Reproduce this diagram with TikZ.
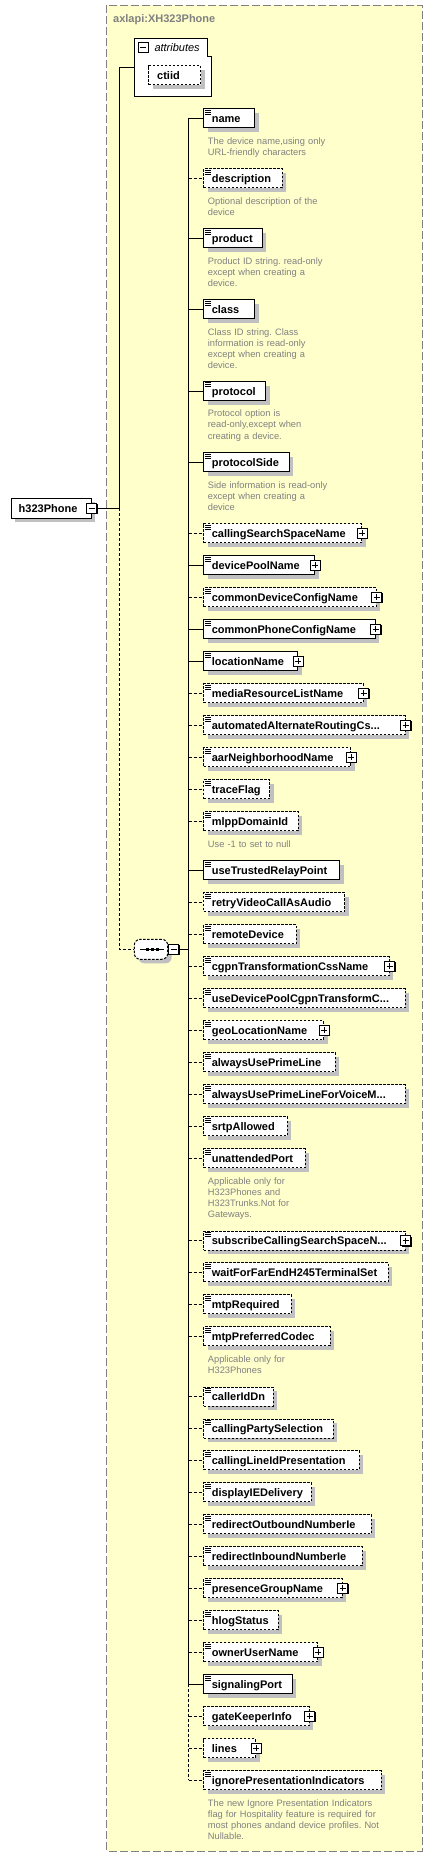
\documentclass[tikz,border=0pt]{standalone}
\usepackage{fontspec}
\setmainfont{Liberation Sans}
\usetikzlibrary{shadows}
\definecolor{frameyellow}{HTML}{FFFFCC}
\definecolor{framegray}{HTML}{808080}
\definecolor{shadowgray}{HTML}{C0C0C0}
\definecolor{descgray}{HTML}{808080}
\tikzset{
  boxshadow/.style={general shadow={fill=shadowgray, shadow xshift=4pt, shadow yshift=-4pt}},
  labelfont/.style={font=\fontsize{11}{13}\selectfont\bfseries},
  elembox/.style={draw=black, fill=white, line width=1pt, inner sep=0pt,
    minimum height=19pt, anchor=north west, text height=8pt, text depth=0pt,
    labelfont, boxshadow},
  reqbox/.style={solid},
  optbox/.style={dash pattern=on 2.5pt off 1.5pt},
  reqconn/.style={draw=black, line width=1pt, solid},
  optconn/.style={draw=black, line width=1pt, dash pattern=on 3pt off 2pt},
  icon/.style={path picture={
    \draw[black, line width=0.7pt, solid]
      ([shift={(1.2pt,-1.3pt)}]path picture bounding box.north west) -- ++(6pt,0)
      ([shift={(1.2pt,-3.3pt)}]path picture bounding box.north west) -- ++(6pt,0)
      ([shift={(1.2pt,-5.3pt)}]path picture bounding box.north west) -- ++(6pt,0);}},
  noicon/.style={},
  pmbox/.style={draw=black, fill=white, line width=1pt, solid, minimum size=10pt,
    inner sep=0pt, general shadow={fill=black, shadow xshift=1pt, shadow yshift=-1pt}},
  plusbox/.style={pmbox, path picture={
    \draw[black, line width=1pt]
      ([xshift=2pt]path picture bounding box.west) -- ([xshift=-2pt]path picture bounding box.east)
      ([yshift=-2pt]path picture bounding box.north) -- ([yshift=2pt]path picture bounding box.south);}},
  minusbox/.style={pmbox, path picture={
    \draw[black, line width=1pt]
      ([xshift=2pt]path picture bounding box.west) -- ([xshift=-2pt]path picture bounding box.east);}},
  desc/.style={anchor=base west, align=left, text width=200pt, inner sep=0pt, text=descgray,
    font=\fontsize{9.3}{11.2}\selectfont\frenchspacing},
  seqbox/.style={draw=black, fill=white, line width=1pt, dash pattern=on 2.5pt off 1.5pt,
    rounded corners=6pt, minimum width=33.4pt, minimum height=20pt, inner sep=0pt, boxshadow},
}
\newcommand{\xelem}[6]{%
  \pgfmathsetmacro{\ew}{#3-203.3}%
  \node[elembox, #4box, #5] (#1) at (203.3,#2) {\makebox[\ew pt][l]{\hspace{8pt}#6}};
  \draw[#4conn] (#1.west -| spine) -- (#1.west);
}
\newcommand{\xplus}[1]{\node[plusbox] (#1-plus) at (#1.east) {};}
\newcommand{\xdesc}[2]{\node[desc] (#1-desc) at ([xshift=4.4pt,yshift=-15.7pt]#1.south west) {#2};}
\begin{document}
\begin{tikzpicture}[x=1pt,y=-1pt]
\useasboundingbox (0,0) rectangle (433,1857);
% outer frame
\draw[draw=framegray, fill=frameyellow, line width=1pt, dash pattern=on 8pt off 3pt]
  (106.7,5.3) rectangle (422.3,1851);
\node[anchor=base west, inner sep=0pt, labelfont, text=framegray] (title) at (113,23) {axlapi:XH323Phone};
\coordinate (spine) at (188.7,0);
\coordinate (lspine) at (119.3,0);
% attributes
\node[inner sep=0pt, minimum width=77pt, minimum height=57.4pt, anchor=north west] (attr) at (134.3,38.3) {};
\draw[black, fill=white, line width=1pt] (attr.north west) -- ++(73pt,0) -- ++(0,-18.4pt) -- ++(4pt,0) |- (attr.south west) -- cycle;
\node[minusbox] (attr-minus) at (143.2,47.5) {};
\node[anchor=base west, inner sep=0pt, font=\fontsize{11}{13}\selectfont\itshape] (attr-label) at (154.3,52) {attributes};
\node[elembox, optbox] (ctiid) at (148.3,65.3) {\makebox[51.7pt][l]{\hspace{8.4pt}ctiid}};
% root
\node[draw=black, fill=white, line width=1pt, inner sep=0pt, minimum height=20pt,
  text height=8pt, text depth=0pt, labelfont, boxshadow, anchor=north west] (h323) at (10.7,497.7)
  {\makebox[80pt][l]{\hspace{7.5pt}h323Phone}};
\node[minusbox] (h323-minus) at (h323.east) {};
% sequence
\node[seqbox] (seq) at (151,949.3) {};
\draw[black, line width=1pt, solid] ([xshift=-11pt]seq.center) -- ([xshift=13pt]seq.center);
\foreach \dx in {-4,1,6}
  \fill[black] ([xshift=\dx pt]seq.center) ++(-1.5pt,-1.2pt) rectangle ++(3pt,2.4pt);
\node[minusbox] (seq-minus) at ([xshift=5.5pt]seq.east) {};
% children
\xelem{name}{108.3}{254.3}{req}{icon}{name}
\xdesc{name}{The device name,using only\\URL-friendly characters}
\xelem{description}{168.3}{281.7}{opt}{icon}{description}
\xdesc{description}{Optional description of the\\device}
\xelem{product}{228.3}{261.7}{req}{icon}{product}
\xdesc{product}{Product ID string. read-only\\except when creating a\\device.}
\xelem{class}{299.3}{254.3}{req}{icon}{class}
\xdesc{class}{Class ID string. Class\\information is read-only\\except when creating a\\device.}
\xelem{protocol}{381}{265}{req}{icon}{protocol}
\xdesc{protocol}{Protocol option is\\read-only,except when\\creating a device.}
\xelem{protocolSide}{452.3}{288.7}{req}{icon}{protocolSide}
\xdesc{protocolSide}{Side information is read-only\\except when creating a\\device}
\xelem{cssn}{523.3}{361}{opt}{icon}{callingSearchSpaceName}\xplus{cssn}
\xelem{dpn}{555.3}{314.3}{req}{icon}{devicePoolName}\xplus{dpn}
\xelem{cdcn}{587.3}{375.7}{opt}{icon}{commonDeviceConfigName}\xplus{cdcn}
\xelem{cpcn}{619.3}{374.7}{req}{icon}{commonPhoneConfigName}\xplus{cpcn}
\xelem{locn}{651.3}{297.3}{req}{icon}{locationName}\xplus{locn}
\xelem{mrln}{683.3}{362.7}{opt}{icon}{mediaResourceListName}\xplus{mrln}
\xelem{aarcs}{715.3}{404.7}{opt}{icon}{automatedAlternateRoutingCs...}\xplus{aarcs}
\xelem{aarnn}{747.3}{350}{opt}{icon}{aarNeighborhoodName}\xplus{aarnn}
\xelem{trace}{779.3}{269.3}{opt}{icon}{traceFlag}
\xelem{mlpp}{811.3}{297.7}{opt}{icon}{mlppDomainId}
\xdesc{mlpp}{Use -1 to set to null}
\xelem{utrp}{860.3}{339.3}{req}{icon}{useTrustedRelayPoint}
\xelem{rvca}{892.3}{344.3}{opt}{icon}{retryVideoCallAsAudio}
\xelem{remd}{924.3}{295.7}{opt}{icon}{remoteDevice}
\xelem{cgpn}{956.3}{388.7}{opt}{icon}{cgpnTransformationCssName}\xplus{cgpn}
\xelem{udpc}{988.3}{404.7}{opt}{icon}{useDevicePoolCgpnTransformC...}
\xelem{geol}{1020.3}{323}{opt}{icon}{geoLocationName}\xplus{geol}
\xelem{aupl}{1052.3}{334.7}{opt}{icon}{alwaysUsePrimeLine}
\xelem{auplv}{1084.3}{404.7}{opt}{icon}{alwaysUsePrimeLineForVoiceM...}
\xelem{srtp}{1116.3}{286.7}{opt}{icon}{srtpAllowed}
\xelem{unatt}{1148.3}{304.7}{opt}{icon}{unattendedPort}
\xdesc{unatt}{Applicable only for\\H323Phones and\\H323Trunks.Not for\\Gateways.}
\xelem{scss}{1230.5}{404.7}{opt}{icon}{subscribeCallingSearchSpaceN...}\xplus{scss}
\xelem{wfeh}{1262.3}{387.7}{opt}{icon}{waitForFarEndH245TerminalSet}
\xelem{mtpr}{1294.3}{290.7}{opt}{icon}{mtpRequired}
\xelem{mtpc}{1326.3}{329.7}{opt}{icon}{mtpPreferredCodec}
\xdesc{mtpc}{Applicable only for\\H323Phones}
\xelem{cidn}{1386.5}{272.7}{opt}{icon}{callerIdDn}
\xelem{cps}{1418.5}{332.7}{opt}{icon}{callingPartySelection}
\xelem{clip}{1450.3}{358.7}{opt}{icon}{callingLineIdPresentation}
\xelem{died}{1482.3}{310.7}{opt}{icon}{displayIEDelivery}
\xelem{roni}{1514.3}{370.7}{opt}{icon}{redirectOutboundNumberIe}
\xelem{rini}{1546.3}{361.7}{opt}{icon}{redirectInboundNumberIe}
\xelem{pgn}{1578.3}{341.7}{opt}{icon}{presenceGroupName}\xplus{pgn}
\xelem{hlog}{1610.3}{277.7}{opt}{icon}{hlogStatus}
\xelem{oun}{1642.3}{317}{opt}{icon}{ownerUserName}\xplus{oun}
\xelem{sigp}{1674.3}{291.7}{req}{icon}{signalingPort}
\xelem{gki}{1706.3}{308.7}{opt}{noicon}{gateKeeperInfo}\xplus{gki}
\xelem{lines}{1738.3}{255}{opt}{noicon}{lines}\xplus{lines}
\xelem{ipi}{1770.3}{380.7}{opt}{icon}{ignorePresentationIndicators}
\xdesc{ipi}{The new Ignore Presentation Indicators\\flag for Hospitality feature is required for\\most phones andand device profiles. Not\\Nullable.}
% spines and connectors
\draw[reqconn] (name.west -| spine) -- (sigp.west -| spine);
\draw[optconn] (sigp.west -| spine) -- (ipi.west -| spine);
\draw[reqconn] (seq-minus.east) -- (seq-minus.east -| spine);
\draw[reqconn] (attr.west) -- (attr.west -| lspine) -- (h323-minus.east -| lspine);
\draw[reqconn] (h323-minus.east) -- (h323-minus.east -| lspine);
\draw[optconn] (h323-minus.east -| lspine) -- (seq.west -| lspine) -- (seq.west);
\end{tikzpicture}
\end{document}
